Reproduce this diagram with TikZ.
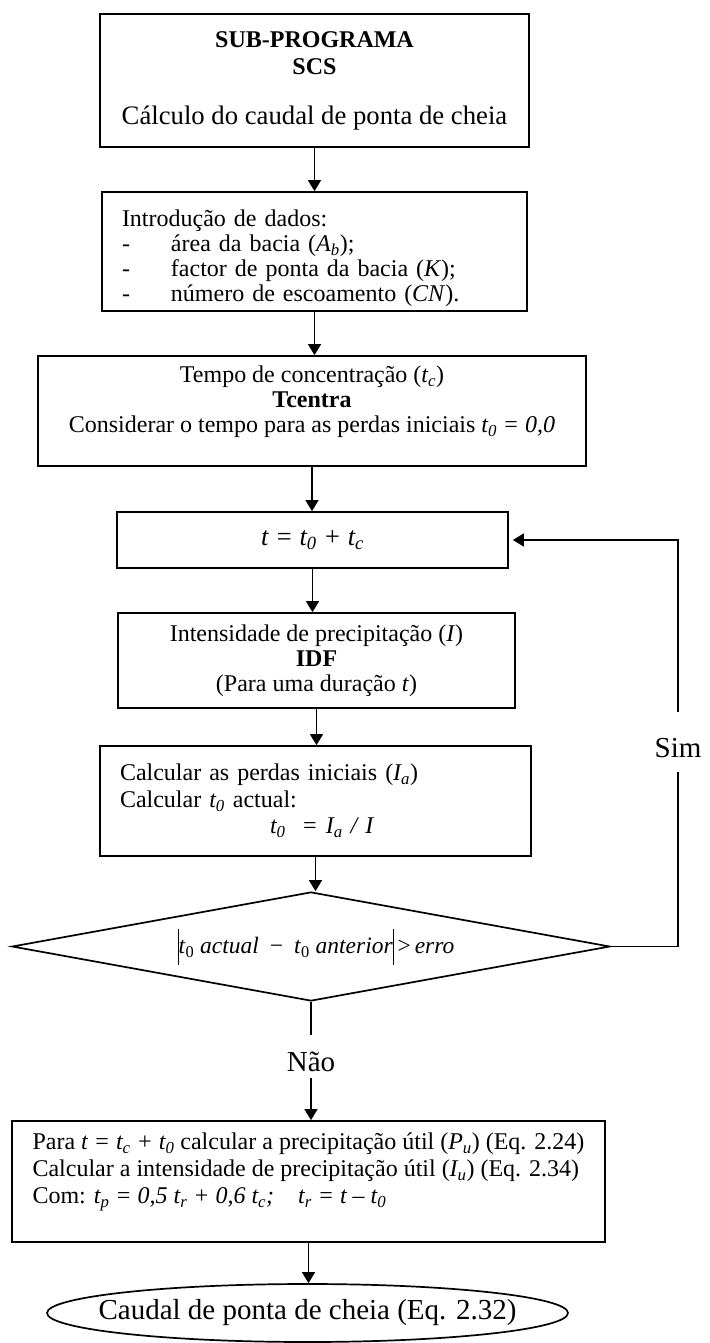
\documentclass[tikz,border=0pt]{standalone}
\usepackage{fontspec}
\setmainfont{Liberation Serif}
\usepackage{tikz}
\usetikzlibrary{positioning,shapes.geometric,arrows.meta}
\definecolor{flowink}{RGB}{0,0,0}
\newcommand{\isub}[2]{\textit{#1\textsubscript{#2}}}
\tikzset{
 flowbox/.style={draw=flowink, line width=1.7pt, inner sep=0pt,
        align=center, font=\fontsize{24}{25}\selectfont},
 flowbox left/.style={flowbox, align=left, inner xsep=20pt},
 testbox/.style={diamond, draw=flowink, line width=1.7pt, inner sep=0pt,
        aspect=5.5, font=\fontsize{23.5}{24}\selectfont},
 endcap/.style={ellipse, draw=flowink, line width=1.7pt, inner xsep=-30pt,
        inner ysep=0pt, font=\fontsize{29}{32}\selectfont},
 branch/.style={inner sep=0pt, anchor=base, font=\fontsize{29}{32}\selectfont},
 flowline/.style={draw=flowink, line width=1.3pt},
 flowarrow/.style={flowline, -{Triangle[length=11pt,width=13pt]}},
}

\begin{document}
\begin{tikzpicture}[x=1pt, y=-1pt]
\useasboundingbox (0,0) rectangle (709,1343);
% header of the sub-programme
\node[flowbox, minimum width=429pt, minimum height=133pt, font=\fontsize{24}{27}\selectfont] (title) at (314.5,80.5)
 {\textbf{SUB-PROGRAMA}\\\textbf{SCS}\\[23pt]{\fontsize{26.7}{27}\selectfont C\'alculo do caudal de ponta de cheia}};
% data input
\node[flowbox left, text width=385pt, minimum height=119pt] (intro) at (314.5,251.5)
 {\rule{0pt}{30pt}Introdução de dados:\\
  \makebox[49pt][l]{-}área da bacia (\isub{A}{b});\\
  \makebox[49pt][l]{-}factor de ponta da bacia (\textit{K});\\
  \makebox[49pt][l]{-}número de escoamento (\textit{CN}).};
\node[flowbox, minimum width=548pt, minimum height=110pt] (tempo) at (312,411)
 {Tempo de concentração (\isub{t}{c})\\\textbf{Tcentra}\\
  Considerar o tempo para as perdas iniciais \textit{t\textsubscript{0} = 0,0}\rule[-24pt]{0pt}{24pt}};
% iteration on t0
\node[flowbox, minimum width=391pt, minimum height=56pt, font=\fontsize{26.5}{28}\selectfont] (tbox) at (312.5,540)
 {\textit{t = t\textsubscript{0} + t\textsubscript{c}}};
\node[flowbox, minimum width=397pt, minimum height=95pt] (idf) at (316.5,660.5)
 {Intensidade de precipitação (\textit{I})\\\textbf{IDF}\\(Para uma duração \textit{t})};
\node[flowbox left, text width=391pt, minimum height=110pt, font=\fontsize{24}{26.5}\selectfont] (calc) at (315.5,801)
 {Calcular as perdas iniciais (\isub{I}{a})\\
  Calcular \isub{t}{0} actual:\\
  \hspace*{150pt}\textit{t\textsubscript{0}\ \ = I\textsubscript{a} / I}};
\node[testbox, minimum width=598pt, minimum height=109pt] (test) at (311,946.5)
 {\hspace*{10pt}\rule[-11pt]{0.9pt}{36pt}\textit{t}\textsubscript{0} \textit{actual}\hspace{11pt}−\hspace{11pt}\textit{t}\textsubscript{0} \textit{anterior}\rule[-11pt]{0.9pt}{36pt}\,>\,\textit{erro}};
\node[branch, text height=36pt, text depth=7pt] (nao) at (311,1071) {Não};
\node[branch, text height=45pt, text depth=15pt] (sim) at (678,757) {Sim};
% useful rainfall and result
\node[flowbox, align=left, minimum width=593pt, minimum height=121pt, font=\fontsize{24}{27}\selectfont] (pbox) at (308.5,1181.5)
 {Para \textit{t = t\textsubscript{c} + t\textsubscript{0}} calcular a precipitação útil (\isub{P}{u}) (Eq. 2.24)\\
  Calcular a intensidade de precipitação útil (\isub{I}{u}) (Eq. 2.34)\\
  Com: \textit{t\textsubscript{p} = 0,5 t\textsubscript{r} + 0,6 t\textsubscript{c};\quad t\textsubscript{r} = t – t\textsubscript{0}}\rule[-27pt]{0pt}{27pt}};
\node[endcap, minimum width=521pt, minimum height=58pt] (ending) at (307.5,1313)
 {Caudal de ponta de cheia (Eq. 2.32)};

% connectors
\draw[flowarrow] (title.south) -- (title.south |- intro.north);
\draw[flowarrow] (intro.south) -- (intro.south |- tempo.north);
\draw[flowarrow] (tempo.south) -- (tempo.south |- tbox.north);
\draw[flowarrow] (tbox.south) -- (tbox.south |- idf.north);
\draw[flowarrow] (idf.south) -- (idf.south |- calc.north);
\draw[flowarrow] (calc.south) -- (calc.south |- test.north);
\draw[flowline] (test.south) -- (test.south |- nao.north);
\draw[flowarrow] (nao.south) -- (nao.south |- pbox.north);
\draw[flowarrow] (pbox.south) -- (pbox.south |- ending.north);
% loop back while the difference is too large
\draw[flowline] (test.east) -| (sim.south);
\draw[flowarrow, shorten >=4pt] (sim.north) |- (tbox.east);
\end{tikzpicture}
\end{document}
